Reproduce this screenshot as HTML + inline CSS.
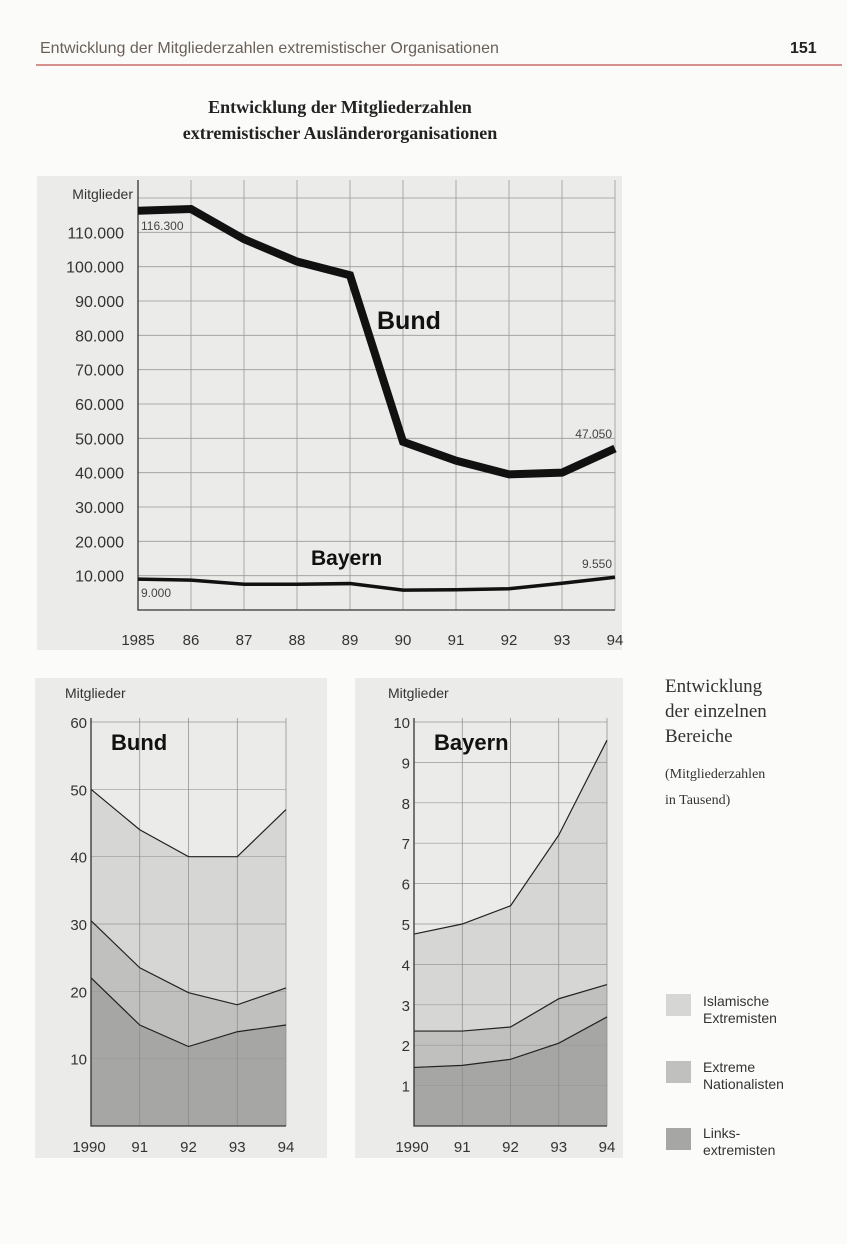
<!DOCTYPE html>
<html><head><meta charset="utf-8"><style>
html,body{margin:0;padding:0;background:#fff;}
svg{display:block;font-family:"Liberation Sans",sans-serif;}
</style></head><body>
<svg id="page" width="847" height="1244" viewBox="0 0 847 1244">
<rect x="0" y="0" width="847" height="1244" fill="#fbfbfa"/>
<text x="40" y="53" font-size="16" fill="#6b6058">Entwicklung der Mitgliederzahlen extremistischer Organisationen</text>
<text x="790" y="53" font-size="16" font-weight="bold" fill="#222">151</text>
<line x1="36" y1="65" x2="842" y2="65" stroke="#c0504d" stroke-width="1.2"/>
<text x="340" y="113" font-family="Liberation Serif,serif" font-size="18" font-weight="bold" text-anchor="middle" fill="#222">Entwicklung der Mitgliederzahlen</text>
<text x="340" y="139" font-family="Liberation Serif,serif" font-size="18" font-weight="bold" text-anchor="middle" fill="#222">extremistischer Ausländerorganisationen</text>

<rect x="37" y="176" width="585" height="474" fill="#ebebe9"/>
<g id="main"></g>

<rect x="35" y="678" width="292" height="480" fill="#ebebe9"/>
<rect x="355" y="678" width="268" height="480" fill="#ebebe9"/>
<g id="bund"></g>
<g id="bayern"></g>

<g fill="#333">
<text x="665" y="692" font-family="Liberation Serif,serif" font-size="19">Entwicklung</text>
<text x="665" y="717" font-family="Liberation Serif,serif" font-size="19">der einzelnen</text>
<text x="665" y="742" font-family="Liberation Serif,serif" font-size="19">Bereiche</text>
<text x="665" y="778" font-family="Liberation Serif,serif" font-size="14">(Mitgliederzahlen</text>
<text x="665" y="804" font-family="Liberation Serif,serif" font-size="14">in Tausend)</text>
<rect x="666" y="994" width="25" height="22" fill="#d6d6d4"/>
<text x="703" y="1006" font-size="14">Islamische</text>
<text x="703" y="1023" font-size="14">Extremisten</text>
<rect x="666" y="1061" width="25" height="22" fill="#c0c0be"/>
<text x="703" y="1072" font-size="14">Extreme</text>
<text x="703" y="1089" font-size="14">Nationalisten</text>
<text x="703" y="1138" font-size="14">Links-</text>
<text x="703" y="1155" font-size="14">extremisten</text>
<rect x="666" y="1128" width="25" height="22" fill="#a6a6a4"/>
</g>
</svg>
<script>
const NS="http://www.w3.org/2000/svg";
// main chart data
const years=["1985","86","87","88","89","90","91","92","93","94"];
const bundTotal=[116300,116800,108000,101500,97500,49000,43500,39500,40000,47050];
const bayernTotal=[9000,8700,7500,7500,7700,5800,5900,6200,7800,9550];
const mainTicks=[10000,20000,30000,40000,50000,60000,70000,80000,90000,100000,110000];
const mainTickLabels=["10.000","20.000","30.000","40.000","50.000","60.000","70.000","80.000","90.000","100.000","110.000"];
// small charts data (thousands)
const smallYears=["1990","91","92","93","94"];
const bundLinks=[22,15,11.8,14,15];
const bundNational=[8.5,8.5,8,4,5.5];
const bundIslam=[19.5,20.5,20.2,22,26.5];
const bayLinks=[1.45,1.5,1.65,2.05,2.7];
const bayNational=[0.9,0.85,0.8,1.1,0.8];
const bayIslam=[2.4,2.65,3.0,4.05,6.05];
const bundTicks=[10,20,30,40,50,60];
const bayTicks=[1,2,3,4,5,6,7,8,9,10];

function mk(parent,tag,attrs,txt){const e=document.createElementNS(NS,tag);for(const k in attrs)e.setAttribute(k,attrs[k]);if(txt!==undefined)e.textContent=txt;parent.appendChild(e);return e;}

// ---- main chart
(function(){
const g=document.getElementById('main');
const X0=138,X1=615,Y0=610,Ymax=120000,Ytop=198;
const x=i=>X0+(X1-X0)*i/(years.length-1);
const y=v=>Y0-(Y0-Ytop)*v/Ymax;
for(const t of [...mainTicks,120000]){const l=mk(g,'line',{x1:X0,x2:X1,y1:y(t),y2:y(t),stroke:'#9a9a98','stroke-width':0.8});

}
years.forEach((yr,i)=>{const l=mk(g,'line',{x1:x(i),x2:x(i),y1:Ytop-18,y2:Y0,stroke:'#9a9a98','stroke-width':0.8});


const t=mk(g,'text',{x:x(i),y:645,'font-size':15,'text-anchor':'middle',fill:'#333'},yr);

});
mainTicks.forEach((v,i)=>{const t=mk(g,'text',{x:124,y:y(v)+6,'font-size':16,'text-anchor':'end',fill:'#333'},mainTickLabels[i]);

});
const ax=mk(g,'path',{d:`M${X0} ${Ytop-18}V${Y0}H${X1}`,fill:'none',stroke:'#333','stroke-width':1.3});


const yt=mk(g,'text',{x:133,y:199,'font-size':14,'text-anchor':'end',fill:'#333'},'Mitglieder');


const pb=mk(g,'polyline',{points:bundTotal.map((v,i)=>x(i)+','+y(v)).join(' '),fill:'none',stroke:'#111','stroke-width':8,'stroke-linejoin':'miter'});


const py=mk(g,'polyline',{points:bayernTotal.map((v,i)=>x(i)+','+y(v)).join(' '),fill:'none',stroke:'#111','stroke-width':3.5});


const lbls=[[141,230,12,'116.300','start','bund-start-value'],[612,438,12,'47.050','end','bund-end-value'],[612,568,12,'9.550','end','bayern-end-value'],[141,597,12,'9.000','start','bayern-start-value']];
for(const a of lbls){const t=mk(g,'text',{x:a[0],y:a[1],'font-size':a[2],'text-anchor':a[4],fill:'#444'},a[3]);

}
const b1=mk(g,'text',{x:377,y:329,'font-size':25,'font-weight':'bold',fill:'#111'},'Bund');


const b2=mk(g,'text',{x:311,y:565,'font-size':21,'font-weight':'bold',fill:'#111'},'Bayern');


})();

// ---- small stacked charts
function stacked(id,X0,X1,Ymax,ticks,layers,title,prefix){
const g=document.getElementById(id);
const Y0=1126,Ytop=722;
const x=i=>X0+(X1-X0)*i/(smallYears.length-1);
const y=v=>Y0-(Y0-Ytop)*v/Ymax;
const fills=['#a6a6a4','#c0c0be','#d6d6d4'];
const names=['links','national','islamic'];
let base=smallYears.map(()=>0);
layers.forEach((arr,li)=>{
const top=arr.map((v,i)=>base[i]+v);
const pts=top.map((v,i)=>x(i)+','+y(v)).concat(base.map((v,i)=>x(i)+','+y(v)).reverse());
const p=mk(g,'polygon',{points:pts.join(' '),fill:fills[li]});


base=top;});
for(const t of ticks){const l=mk(g,'line',{x1:X0,x2:X1,y1:y(t),y2:y(t),stroke:'#999','stroke-width':0.7});


const tl=mk(g,'text',{x:X0-4,y:y(t)+6,'font-size':15,'text-anchor':'end',fill:'#333'},String(t));

}
smallYears.forEach((yr,i)=>{const l=mk(g,'line',{x1:x(i),x2:x(i),y1:Ytop-4,y2:Y0,stroke:'#888','stroke-width':0.7});


const t=mk(g,'text',{x:x(i)+(i==0?-2:0),y:1152,'font-size':15,'text-anchor':'middle',fill:'#333'},yr);

});
base=smallYears.map(()=>0);
layers.forEach((arr,li)=>{base=arr.map((v,i)=>base[i]+v);
const pl=mk(g,'polyline',{points:base.map((v,i)=>x(i)+','+y(v)).join(' '),fill:'none',stroke:'#222','stroke-width':1.2});

});
const ax=mk(g,'path',{d:`M${X0} ${Ytop-4}V${Y0}H${X1}`,fill:'none',stroke:'#333','stroke-width':1.3});


const yt=mk(g,'text',{x:X0-26,y:698,'font-size':14,fill:'#333'},'Mitglieder');


const tt=mk(g,'text',{x:X0+20,y:750,'font-size':22,'font-weight':'bold',fill:'#111'},title);


}
stacked('bund',91,286,60,bundTicks,[bundLinks,bundNational,bundIslam],'Bund','bund');
stacked('bayern',414,607,10,bayTicks,[bayLinks,bayNational,bayIslam],'Bayern','bayern');
</script>
</body></html>
